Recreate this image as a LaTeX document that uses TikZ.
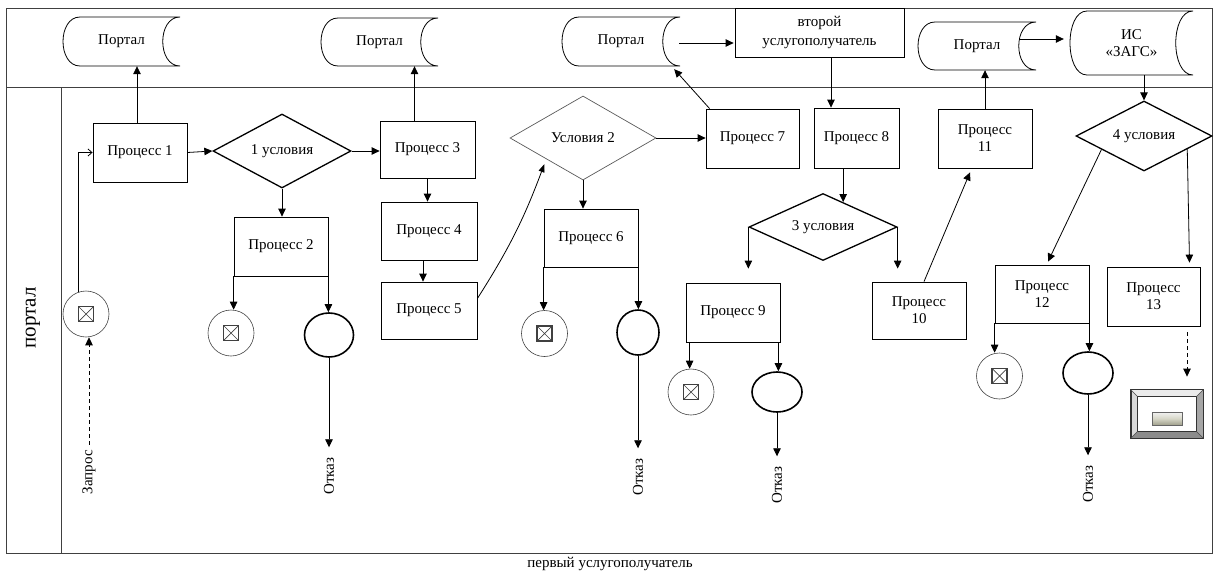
\documentclass[tikz,border=0pt]{standalone}
\usepackage{fontspec}
\setmainfont{Liberation Serif}
\usetikzlibrary{arrows.meta,shapes.geometric,calc}
\newcommand{\lbl}{\fontsize{15}{17}\selectfont}
\newcommand{\storageshape}[6]{%
 \node[inner sep=0, minimum width={#4-#2}, minimum height={#5-#3}, align=center, font=\lbl] (#1) at ({(#2+#4)/2},{(#3+#5)/2}) {#6};
 \draw[ln] ({#2+17},#3) -- (#4,#3) .. controls ({#4-23},#3) and ({#4-23},#5) .. (#4,#5) -- ({#2+17},#5) .. controls ({#2-17/3},#5) and ({#2-17/3},#3) .. cycle;
}
\begin{document}
\begin{tikzpicture}[x=1pt,y=-1pt,
 ln/.style={draw=black, line width=0.8pt},
 proc/.style={rectangle, draw, line width=0.8pt, inner sep=0, align=center, font=\lbl},
 dia/.style={diamond, draw, line width=1.3pt, inner sep=0, font=\lbl},
 arr/.style={line width=0.8pt, -{Triangle[length=8pt,width=7.5pt]}},
 xev/.style={circle, draw=black!75, line width=0.6pt, minimum size=46pt, inner sep=0,
   path picture={
     \draw[line width=1.8pt] ([shift={(-7.5pt,-7.5pt)}]path picture bounding box.center) rectangle ([shift={(7.5pt,7.5pt)}]path picture bounding box.center);
     \draw[line width=0.7pt] ([shift={(-7.5pt,-7.5pt)}]path picture bounding box.center) -- ([shift={(7.5pt,7.5pt)}]path picture bounding box.center)
       ([shift={(-7.5pt,7.5pt)}]path picture bounding box.center) -- ([shift={(7.5pt,-7.5pt)}]path picture bounding box.center);}},
 endev/.style={ellipse, draw, line width=1.6pt, inner sep=0},
 lab/.style={font=\lbl, inner sep=0, rotate=90},
 frame/.style={draw=black!75, line width=1pt}]
\useasboundingbox (0,0) rectangle (1214,573);
% frame
\draw[frame] (6,8) rectangle (1212,553);
\draw[frame] (6,87) -- (1212,87);
\draw[frame] (61,87) -- (61,553);
\node[font=\fontsize{21}{24}\selectfont, rotate=90, inner sep=0] (lane) at (33,318) {портал};
\node[font=\lbl, inner sep=0] (bl) at (610,564) {первый услугополучатель};
% top lane
\storageshape{Pt1}{63}{17}{180}{66}{Портал}
\storageshape{Pt2}{321}{18}{438}{66}{Портал}
\storageshape{Pt3}{562}{17}{680}{66}{Портал}
\storageshape{Pt4}{918}{22}{1036}{70}{Портал}
\storageshape{IS}{1070}{11}{1193}{75}{ИС\\«ЗАГС»}
\node[proc, minimum width=169, minimum height=49, font=\fontsize{15}{19}\selectfont] (B2) at (819.5,32.5) {второй\\услугополучатель};
% processes
\node[proc, minimum width=94, minimum height=59] (P1) at (140,152.5) {Процесс 1};
\node[proc, minimum width=94, minimum height=59] (P2) at (281,246.5) {Процесс 2};
\node[proc, minimum width=95, minimum height=57] (P3) at (427.5,149.5) {Процесс 3};
\node[proc, minimum width=96, minimum height=58] (P4) at (429,231) {Процесс 4};
\node[proc, minimum width=96, minimum height=57] (P5) at (429,310.5) {Процесс 5};
\node[proc, minimum width=94, minimum height=58] (P6) at (591,238) {Процесс 6};
\node[proc, minimum width=93, minimum height=59] (P7) at (752.5,138.5) {Процесс 7};
\node[proc, minimum width=85, minimum height=60] (P8) at (856.5,138) {Процесс 8};
\node[proc, minimum width=94, minimum height=59] (P9) at (733,312.5) {Процесс 9};
\node[proc, minimum width=94, minimum height=57] (P10) at (919,310.5) {Процесс\\10};
\node[proc, minimum width=94, minimum height=59] (P11) at (985,138.5) {Процесс\\11};
\node[proc, minimum width=94, minimum height=58] (P12) at (1042,294) {Процесс\\12};
\node[proc, minimum width=93, minimum height=59] (P13) at (1153.5,296.5) {Процесс\\13};
% decisions
\node[dia, minimum width=138, minimum height=74, aspect=1.86] (D1) at (282,151) {1 условия};
\node[dia, draw=black!65, line width=0.7pt, minimum width=146, minimum height=84, aspect=1.74] (D2) at (583,138) {Условия 2};
\node[dia, minimum width=148, minimum height=67, aspect=2.2] (D3) at (823,227) {3 условия};
\node[dia, minimum width=136, minimum height=70, aspect=1.94] (D4) at (1144,136) {4 условия};
% events
\node[xev] (S0) at (86,314) {};
\node[xev] (X2) at (231,333) {};
\node[xev] (X6) at (544.5,333.5) {};
\node[xev] (X9) at (691,392) {};
\node[xev] (X12) at (999.5,376) {};
\node[endev, minimum width=49, minimum height=44] (E2) at (329,335) {};
\node[endev, minimum width=42, minimum height=45] (E6) at (638,332.5) {};
\node[endev, minimum width=50, minimum height=40] (E9) at (777,392) {};
\node[endev, minimum width=50, minimum height=42] (E12) at (1088,373) {};
% labels
\node[lab] (zap) at (89,472) {Запрос};
\node[lab] (O2) at (329,476) {Отказ};
\node[lab] (O6) at (638,477) {Отказ};
\node[lab] (O9) at (777,485) {Отказ};
\node[lab] (O12) at (1088,484) {Отказ};
% terminal bevel box
\node[draw=black!80, line width=0.8pt, fill=black!15, minimum width=72, minimum height=48, inner sep=0] (T) at (1167,414) {};
\fill[black!8] (T.north west) -- (T.north east) -- ([shift={(-7pt,-7pt)}]T.north east) -- ([shift={(7pt,-7pt)}]T.north west) -- cycle;
\fill[black!35] (T.south east) -- (T.north east) -- ([shift={(-7pt,-7pt)}]T.north east) -- ([shift={(-7pt,7pt)}]T.south east) -- cycle;
\fill[black!45] (T.south west) -- (T.south east) -- ([shift={(-7pt,7pt)}]T.south east) -- ([shift={(7pt,7pt)}]T.south west) -- cycle;
\draw[black!80, line width=0.8pt] (T.north west) rectangle (T.south east);
\draw[black!80, line width=0.6pt, fill=white] ([shift={(7pt,-7pt)}]T.north west) rectangle ([shift={(-7pt,7pt)}]T.south east);
\draw[black!70, line width=0.5pt] (T.north west) -- ([shift={(7pt,-7pt)}]T.north west)
  (T.north east) -- ([shift={(-7pt,-7pt)}]T.north east)
  (T.south west) -- ([shift={(7pt,7pt)}]T.south west)
  (T.south east) -- ([shift={(-7pt,7pt)}]T.south east);
\draw[black!60, line width=0.6pt, top color=white!90!gray, bottom color={rgb,255:red,160;green,160;blue,140}, middle color={rgb,255:red,215;green,215;blue,200}] ([shift={(-15pt,2pt)}]T.center) rectangle ([shift={(15pt,-11pt)}]T.center);
% connectors
\draw[line width=0.8pt, -{Straight Barb[length=4pt,width=7pt]}] (S0.108) |- (P1.west);
\draw[arr, dash pattern=on 4pt off 3pt] ([yshift=5pt]zap.east) -- (zap.east |- S0.south);
\draw[arr] ([xshift=-3pt]P1.north) -- ([xshift=-3pt]P1.north |- Pt1.south);
\draw[arr] (P1.east) -- (D1.west);
\draw[arr] (D1.east) -- (P3.west |- D1.east);
\draw[arr] (D1.south) -- (D1.south |- P2.north);
\draw[arr] (P2.south west) -- (P2.south west |- X2.north);
\draw[arr] (P2.south east) -- (P2.south east |- E2.north);
\draw[arr] (E2.south) -- ([yshift=10pt]E2.south |- O2.east);
\draw[arr] ([xshift=-13pt]P3.north) -- ([xshift=-13pt]P3.north |- Pt2.south);
\draw[arr] (P3.south) -- (P3.south |- P4.north);
\draw[arr] ([xshift=-6pt]P4.south) -- ([xshift=-6pt]P4.south |- P5.north);
\draw[line width=0.8pt, -{Triangle[length=8pt,width=6pt]}] ([yshift=12pt]P5.east) to[bend right=6] ([shift={(-2pt,-5pt)}]D2.south west);
\draw[arr] (D2.south) -- (D2.south |- P6.north);
\draw[arr] (P6.south west) -- (P6.south west |- X6.north);
\draw[arr] (P6.south east) -- (P6.south east |- E6.north);
\draw[arr] (E6.south) -- ([yshift=10pt]E6.south |- O6.east);
\draw[arr] (D2.east) -- (P7.west |- D2.east);
\draw[arr] ([xshift=4pt]P7.north west) -- ([shift={(-6pt,-3pt)}]Pt3.south east);
\draw[arr] ([xshift=-1pt,yshift=-1.5pt]Pt3.east) -- ([xshift=-1pt,yshift=-1.5pt]Pt3.east -| B2.west);
\draw[arr] ([xshift=11.5pt]B2.south) -- ([xshift=11.5pt]B2.south |- P8.north);
\coordinate (d3in) at ($(D3.north)!0.27!(D3.east)$);
\draw[arr] (P8.south -| d3in) -- (d3in);
\draw[arr] (D3.west) -- ([yshift=14pt]D3.west |- P9.north);
\draw[arr] (D3.east) -- ([yshift=13pt]D3.east |- P10.north);
\draw[arr] ([xshift=4pt]P9.south west) -- ([xshift=4pt]P9.south west |- X9.north);
\draw[arr] ([xshift=-2pt]P9.south east) -- ([xshift=-2pt]P9.south east |- E9.north);
\draw[arr] (E9.south) -- ([yshift=10pt]E9.south |- O9.east);
\draw[arr] ([xshift=5pt]P10.north) -- ([shift={(-15pt,-4pt)}]P11.south);
\draw[arr] (P11.north) -- (P11.north |- Pt4.south);
\draw[arr] ([shift={(-16pt,7pt)}]Pt4.east) -- ([shift={(-6pt,4pt)}]IS.west);
\draw[arr] (D4.north |- IS.south) -- (D4.north);
\draw[arr] ($(D4.west)!0.38!(D4.south)$) -- ([shift={(6pt,3pt)}]P12.north);
\draw[arr] ($(D4.east)!0.37!(D4.south)$) -- ([shift={(36pt,4pt)}]P13.north);
\draw[arr] (P12.south west) -- (P12.south west |- X12.north);
\draw[arr] (P12.south east) -- (P12.south east |- E12.north);
\draw[arr] (E12.south) -- ([yshift=10pt]E12.south |- O12.east);
\draw[arr, dash pattern=on 4pt off 3pt] ([shift={(33.5pt,-6pt)}]P13.south) -- ([shift={(33.5pt,13pt)}]P13.south |- T.north);
\end{tikzpicture}
\end{document}
